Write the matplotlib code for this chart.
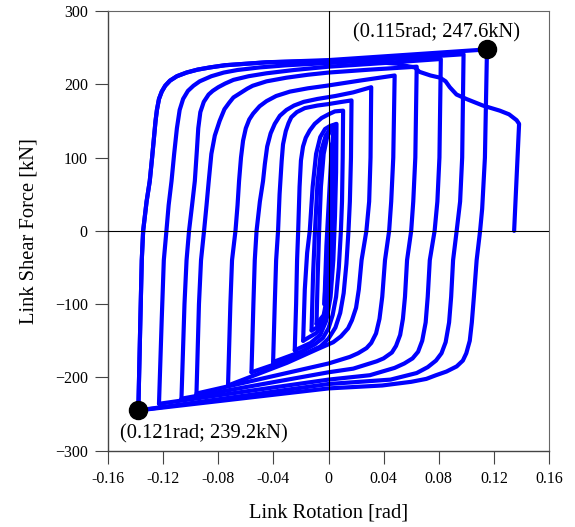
import matplotlib
matplotlib.use("Agg")
import matplotlib.pyplot as plt

plt.rcParams['font.family'] = ['Liberation Serif', 'DejaVu Serif']

# ---------------- data ----------------
# elastic / small initial cycles
c0_rot = [0.0, 0.003, -0.0015, 0.0035, -0.002, 0.004, -0.0025, 0.0042, -0.003]
c0_shear = [0, 120, -80, 128, -88, 135, -95, 138, -100]

c1_rot = [-0.003, -0.0015, 0.0005, 0.002, 0.0032, 0.0040, 0.0035, 0.0025, 0.001, -0.001, -0.0035, -0.0087]
c1_shear = [-100, -20, 50, 100, 128, 140, 80, 20, -40, -90, -115, -127]

c2_rot = [-0.0087, -0.0078, -0.0068, -0.0055, -0.0035, -0.001, 0.002, 0.0046,
          0.0042, 0.0033, 0.002, 0.0, -0.003, -0.0065, -0.0123]
c2_shear = [-127, -60, 0, 60, 105, 128, 139, 143,
            80, 20, -40, -90, -118, -130, -136]

c3_rot = [-0.0123, -0.0112, -0.0098, -0.008, -0.0055, -0.002, 0.0015, 0.0052,
          0.0048, 0.0038, 0.0025, 0.0003, -0.003, -0.0085, -0.0184]
c3_shear = [-136, -60, 0, 65, 108, 130, 140, 145,
            80, 20, -40, -92, -122, -139, -150]

c4_rot = [-0.0184, -0.0172, -0.0155, -0.0136, -0.0115, -0.009, -0.006, -0.0025, 0.001, 0.0058,
          0.0055, 0.0047, 0.0035, 0.0015, -0.0015, -0.006, -0.013, -0.0245]
c4_shear = [-150, -80, -30, 0, 60, 105, 128, 139, 143, 146,
            80, 20, -40, -90, -122, -142, -153, -163]

c5_rot = [-0.0245, -0.0235, -0.0228, -0.022, -0.021, -0.0200, -0.0185, -0.0165, -0.0136, -0.010, -0.005, 0.0, 0.0046, 0.0106,
          0.0103, 0.0098, 0.009, 0.0075, 0.0055, 0.003, 0.0, -0.004, -0.010, -0.020, -0.0402]
c5_shear = [-163, -100, -40, 0, 60, 96, 115, 127, 137, 146, 154, 159, 163, 164,
            100, 40, 0, -50, -90, -115, -133, -146, -155, -165, -179]

c6_rot = [-0.0402, -0.039, -0.038, -0.0366, -0.0355, -0.034, -0.033, -0.031, -0.029, -0.027, -0.023, -0.0172, -0.008, 0.0, 0.008, 0.0167,
          0.0163, 0.0155, 0.0145, 0.013, 0.011, 0.0085, 0.005, 0.0, -0.006, -0.020, -0.0559]
c6_shear = [-179, -100, -40, 0, 50, 95, 118, 136, 147, 155, 162, 167.5, 171, 173, 175.5, 178,
            100, 40, 0, -45, -85, -112, -132, -147, -158, -170, -193]

c7_rot = [-0.0559, -0.0545, -0.0535, -0.0522, -0.0498, -0.0475, -0.0462, -0.0445, -0.042, -0.039, -0.0353, -0.0305,
          -0.025, -0.018, -0.008, 0.005, 0.018, 0.031,
          0.0305, 0.0295, 0.0275, 0.024, 0.022, 0.020, 0.017, 0.0142, 0.009, 0.0034, -0.0087, -0.030, -0.0729]
c7_shear = [-193, -100, -40, 0, 40, 68, 91, 115, 133, 146, 157, 165,
            171, 176, 180, 184, 189, 196,
            100, 40, 0, -40, -80, -105, -122, -133, -144, -152, -162, -180, -211]

c8_rot = [-0.0729, -0.0712, -0.070, -0.0675, -0.066, -0.0649, -0.0635, -0.062, -0.060, -0.0575, -0.0547, -0.050, -0.045,
          -0.038, -0.028, -0.015, -0.0015, 0.0227, 0.048,
          0.047, 0.0455, 0.044, 0.041, 0.039, 0.037, 0.0345, 0.031, 0.0276, 0.0215, 0.0155, 0.0, -0.0958]
c8_shear = [-211, -100, -40, 0, 35, 68, 100, 123, 140, 152, 160, 170, 177,
            184, 190, 194.5, 198, 205, 212,
            100, 40, 0, -40, -90, -120, -140, -153, -160, -167, -172, -181, -222]

c9_rot = [-0.0958, -0.094, -0.0925, -0.0903, -0.0885, -0.0869, -0.085, -0.0825, -0.079, -0.0755, -0.072, -0.069, -0.064,
          -0.059, -0.055, -0.045, -0.0305, -0.015, 0.0, 0.030, 0.064,
          0.063, 0.0615, 0.060, 0.057, 0.0555, 0.054, 0.052, 0.049, 0.046, 0.040, 0.035, 0.018, 0.0, -0.1067]
c9_shear = [-222, -100, -40, 0, 35, 68, 105, 130, 150, 166, 175, 182, 188,
            194, 198, 204, 209, 213, 216, 220, 224,
            100, 40, 0, -40, -90, -120, -142, -157, -166, -174, -178, -188, -193, -229]

c10_rot = [-0.1067, -0.1045, -0.103, -0.1012, -0.099, -0.0970, -0.0955, -0.0945, -0.093, -0.0905, -0.087, -0.084, -0.080,
           -0.075, -0.069, -0.058, -0.045, -0.025, 0.0, 0.040, 0.0815,
           0.0805, 0.079, 0.077, 0.0735, 0.072, 0.0705, 0.068, 0.065, 0.061, 0.055, 0.048, 0.030, 0.0, -0.123]
c10_shear = [-229, -100, -40, 0, 35, 68, 110, 140, 162, 176, 186, 191, 196,
             201, 206, 211, 215, 219.5, 224, 229, 234.5,
             100, 40, 0, -40, -90, -125, -150, -165, -174, -181, -187, -197, -203, -236]

c11_rot = [-0.123, -0.121, -0.1195, -0.1176, -0.116, -0.1139, -0.112, -0.110, -0.108, -0.1055, -0.102, -0.098, -0.0935,
           -0.085, -0.076, -0.066, -0.050, -0.030, 0.0, 0.050, 0.098,
           0.097, 0.0955, 0.093, 0.0904, 0.089, 0.0875, 0.085, 0.082, 0.078, 0.072, 0.064, 0.045, 0.0, -0.138]
c11_shear = [-236, -120, -40, 0, 35, 68, 105, 140, 165, 180, 191, 198, 204,
             211, 216, 219.5, 223, 226, 229, 235, 241,
             100, 40, 0, -40, -90, -125, -152, -167, -177, -186, -194, -203, -209, -245]

c12_rot = [-0.138, -0.1365, -0.1355, -0.1345, -0.132, -0.1297, -0.128, -0.1265, -0.1255, -0.1245, -0.123, -0.121, -0.1185,
           -0.115, -0.110, -0.103, -0.095, -0.086, -0.075, -0.060, -0.045, 0.0, 0.115,
           0.1135, 0.1115, 0.110, 0.1075, 0.1055, 0.104, 0.1025, 0.100, 0.0975, 0.093, 0.0856, 0.078, 0.071, 0.060, 0.039, 0.0, -0.138]
c12_shear = [-245, -120, -40, 0, 40, 68, 100, 130, 150, 165, 180, 190, 198,
             205, 211, 216, 220, 223, 226, 228, 230, 233, 247.6,
             100, 30, 0, -40, -90, -125, -150, -167, -177, -185, -192, -197, -202, -206, -211, -215, -245]

# final excursion with strength degradation
c13_rot = [-0.138, -0.1365, -0.1355, -0.1345, -0.132, -0.1297, -0.128, -0.1265, -0.1255, -0.1245, -0.123, -0.121, -0.1185,
           -0.115, -0.110, -0.103, -0.095, -0.086, -0.075, -0.060, -0.045,
           0.0, 0.030, 0.050, 0.0565, 0.0626, 0.066, 0.074, 0.081, 0.085, 0.088, 0.0929, 0.100, 0.112, 0.1243, 0.131, 0.1365,
           0.1383, 0.1347]
c13_shear = [-245, -120, -40, 0, 40, 68, 100, 130, 150, 165, 180, 190, 198,
             205, 211, 216, 220, 223, 226, 228, 230,
             232, 231, 228, 225, 223, 217, 212, 209, 204, 196, 186, 180, 171, 164, 159, 151,
             146, 0]

peak_rot = [0.115, -0.138]
peak_shear = [247.6, -245]
peak_labels = ['(0.115rad; 247.6kN)', '(0.121rad; 239.2kN)']

x_ticks = [-0.16, -0.12, -0.08, -0.04, 0, 0.04, 0.08, 0.12, 0.16]
x_ticklabels = ['-0.16', '-0.12', '-0.08', '-0.04', '0', '0.04', '0.08', '0.12', '0.16']
y_ticks = [-300, -200, -100, 0, 100, 200, 300]

cycles = [(c0_rot, c0_shear), (c1_rot, c1_shear), (c2_rot, c2_shear), (c3_rot, c3_shear),
          (c4_rot, c4_shear), (c5_rot, c5_shear), (c6_rot, c6_shear), (c7_rot, c7_shear),
          (c8_rot, c8_shear), (c9_rot, c9_shear), (c10_rot, c10_shear), (c11_rot, c11_shear),
          (c12_rot, c12_shear), (c13_rot, c13_shear)]

# ---------------- figure ----------------
fig = plt.figure(figsize=(5.75, 5.27), dpi=100)
ax = fig.add_axes([108 / 575, 1 - 450.7 / 527, (549 - 108) / 575, (450.7 - 11) / 527])

for xs, ys in cycles:
    ax.plot(xs, ys, color='#0000ff', lw=3.0, solid_joinstyle='round', solid_capstyle='round', zorder=2)

ax.axhline(0, color='black', lw=0.8, zorder=3)
ax.axvline(0, color='black', lw=0.8, zorder=3)

ax.plot(peak_rot, peak_shear, 'o', color='black', ms=13, zorder=4)
ax.text(0.0786, 270.8, peak_labels[0], fontsize=14.8, ha='center', va='center')
ax.text(-0.0901, -276.8, peak_labels[1], fontsize=14.8, ha='center', va='center')

ax.set_xlim(-0.16, 0.16)
ax.set_ylim(-300, 300)
ax.set_xticks(x_ticks)
ax.set_xticklabels(x_ticklabels)
ax.set_yticks(y_ticks)
ax.tick_params(direction='out', length=9.5, width=0.8, color='#444444', labelsize=11.5, pad=5)

for side in ['left', 'bottom']:
    ax.spines[side].set_color('#444444')
    ax.spines[side].set_linewidth(1.0)
for side in ['top', 'right']:
    ax.spines[side].set_color('#666666')
    ax.spines[side].set_linewidth(0.8)

ax.set_xlabel('Link Rotation [rad]', fontsize=14.8, labelpad=12)
ax.set_ylabel('Link Shear Force [kN]', fontsize=14.8, labelpad=12)

fig.savefig('out.png', dpi=100)
